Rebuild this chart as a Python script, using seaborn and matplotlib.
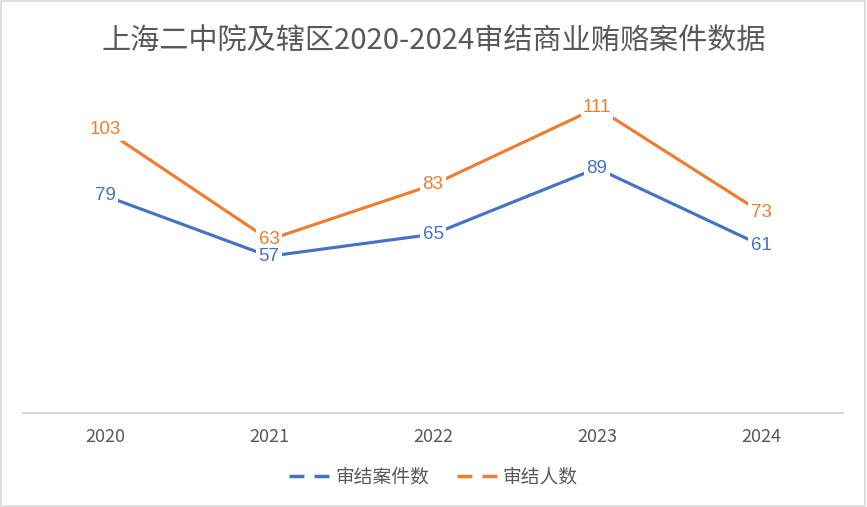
import numpy as np
import pandas as pd
import matplotlib.pyplot as plt
import seaborn as sns
from matplotlib.lines import Line2D
from matplotlib.patches import Rectangle

# datos
years = ["2020", "2021", "2022", "2023", "2024"]
cases = [79, 57, 65, 89, 61]
people = [103, 63, 83, 111, 73]
series_names = ["审结案件数", "审结人数"]
colors = ["#4472C4", "#ED7D31"]
title = "上海二中院及辖区2020-2024审结商业贿赂案件数据"

df = pd.DataFrame({
    "year": years * 2,
    "value": cases + people,
    "series": [series_names[0]] * len(years) + [series_names[1]] * len(years),
})

sns.set_style("white")
plt.rcParams["font.family"] = ["Noto Sans CJK SC", "DejaVu Sans"]

fig = plt.figure(figsize=(8.67, 5.07), dpi=100)
ax = fig.add_axes([23 / 867, 94 / 507, 820 / 867, 330 / 507])

sns.lineplot(data=df, x="year", y="value", hue="series", palette=colors,
             linewidth=2.25, ax=ax, legend=False, sort=False)

# etiquetas de datos (la serie azul al final para que quede encima)
for name, color in list(zip(series_names, colors))[::-1]:
    sub = df[df["series"] == name]
    for i, v in enumerate(sub["value"]):
        ax.text(i, v, str(v), ha="center", va="center", color=color,
                fontsize=13.5, family=["Liberation Sans", "DejaVu Sans"],
                bbox=dict(boxstyle="square,pad=0.12", fc="white", ec="none"),
                zorder=5)

ax.set_xlim(-0.5, 4.5)
ax.set_ylim(0, 120)
ax.set_yticks([])
ax.set_xlabel("")
ax.set_ylabel("")
for s in ["top", "right", "left"]:
    ax.spines[s].set_visible(False)
ax.spines["bottom"].set_color("#D9D9D9")
ax.spines["bottom"].set_linewidth(1.5)
ax.tick_params(axis="x", length=0, pad=11, labelsize=13, colors="#595959")

fig.suptitle(title, y=0.948, fontsize=21, color="#595959")

handles = [Line2D([0], [0], color=c, lw=2.5, linestyle=(0, (4.3, 2.9))) for c in colors]
fig.legend(handles, series_names, loc="center", bbox_to_anchor=(0.5, 1 - 477 / 507),
           ncol=2, frameon=False, fontsize=13.5, labelcolor="#595959",
           handlelength=2.15, handletextpad=0.3, columnspacing=1.5)

fig.patches.append(Rectangle((0.001, 0.001), 0.997, 0.997, transform=fig.transFigure,
                             fill=False, ec="#D9D9D9", lw=1.2))

plt.savefig("out.png", dpi=100)
